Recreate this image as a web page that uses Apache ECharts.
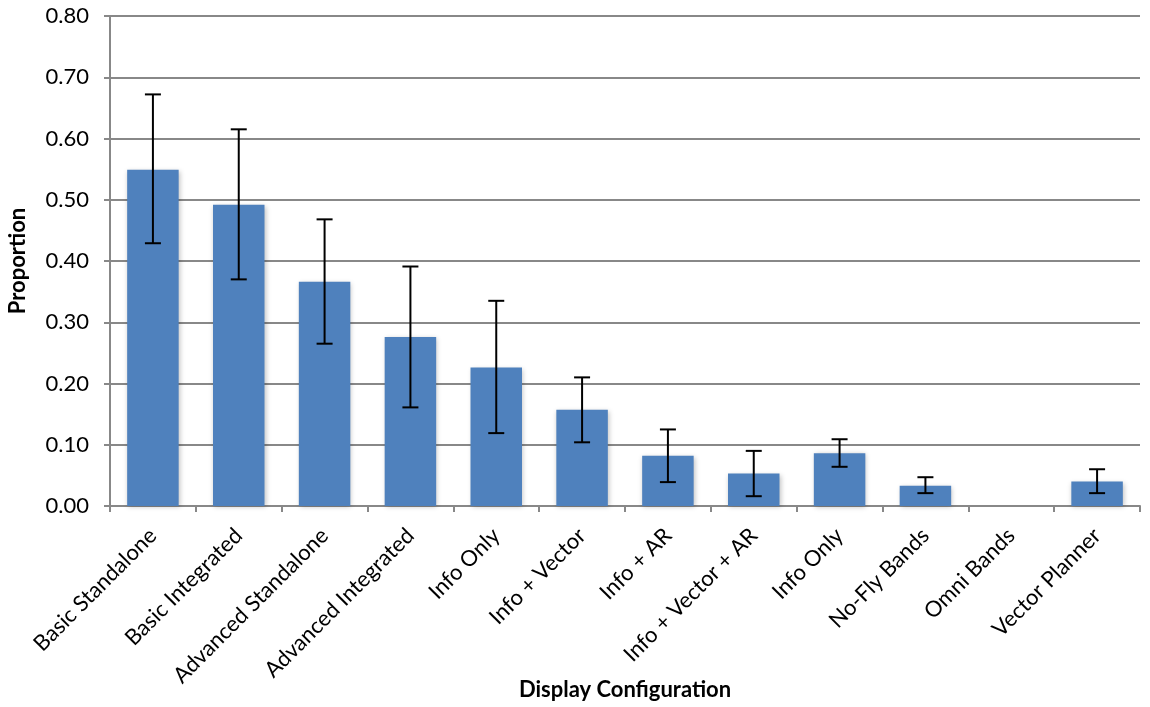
<!DOCTYPE html>
<html>
<head>
<meta charset="utf-8">
<script src="https://cdn.jsdelivr.net/npm/echarts@6/dist/echarts.min.js"></script>
<style>html,body{margin:0;padding:0;background:#fff}#c{width:1150px;height:707px}</style>
</head>
<body>
<div id="c"></div>
<script>
const categories = ["Basic Standalone","Basic Integrated","Advanced Standalone","Advanced Integrated","Info Only","Info + Vector","Info + AR","Info + Vector + AR","Info Only","No-Fly Bands","Omni Bands","Vector Planner"];
const proportions = [0.549,0.492,0.366,0.276,0.226,0.157,0.082,0.053,0.086,0.033,0.000,0.040];
const errLow  = [0.429,0.370,0.265,0.161,0.119,0.104,0.039,0.016,0.064,0.021,0.000,0.021];
const errHigh = [0.672,0.615,0.468,0.391,0.335,0.210,0.125,0.090,0.109,0.047,0.000,0.060];
const yTicks = [0,0.1,0.2,0.3,0.4,0.5,0.6,0.7,0.8];

const FONT = "Lato, 'Open Sans', sans-serif";
const errData = categories.map((c,i)=>[i, errLow[i], errHigh[i]]);

const chart = echarts.init(document.getElementById('c'), null, {renderer:'canvas'});
chart.setOption({
  animation:false,
  grid:{left:110,right:10,top:16,bottom:201,containLabel:false,outerBoundsMode:'none'},
  xAxis:{
    type:'category', data:categories,
    name:'Display Configuration', nameLocation:'middle', nameGap:173, nameMoveOverlap:false,
    nameTextStyle:{fontFamily:FONT,fontSize:22,fontWeight:'bold',color:'#000'},
    axisLine:{lineStyle:{color:'#888',width:2}},
    axisTick:{show:true,length:6,lineStyle:{color:'#888',width:2}},
    axisLabel:{rotate:45,fontFamily:FONT,fontSize:22,color:'#000',margin:26,interval:0}
  },
  yAxis:{
    type:'value', min:yTicks[0], max:yTicks[yTicks.length-1], interval:0.1,
    name:'Proportion', nameLocation:'middle', nameGap:81, nameRotate:90, nameMoveOverlap:false,
    nameTextStyle:{fontFamily:FONT,fontSize:22,fontWeight:'bold',color:'#000'},
    axisLine:{show:true,lineStyle:{color:'#888',width:2}},
    axisTick:{show:true,length:6,lineStyle:{color:'#888',width:2}},
    axisLabel:{fontFamily:FONT,fontSize:22,color:'#000',margin:21,formatter:v=>v.toFixed(2)},
    splitLine:{lineStyle:{color:'#888',width:2}}
  },
  series:[
    {type:'bar',data:proportions,barCategoryGap:'40%',
     itemStyle:{color:'#4F81BD',shadowBlur:5,shadowColor:'rgba(0,0,0,0.25)',shadowOffsetX:1,shadowOffsetY:1}},
    {type:'custom',data:errData,encode:{x:0,y:[1,2]},z:10,
     renderItem:function(params,api){
       const i=api.value(0);
       const lo=api.coord([i,api.value(1)]);
       const hi=api.coord([i,api.value(2)]);
       if(api.value(2)-api.value(1)<=0) return null;
       const hw=8;
       const st={stroke:'#000',lineWidth:2};
       return {type:'group',children:[
         {type:'line',shape:{x1:lo[0],y1:lo[1],x2:hi[0],y2:hi[1]},style:st},
         {type:'line',shape:{x1:lo[0]-hw,y1:lo[1],x2:lo[0]+hw,y2:lo[1]},style:st},
         {type:'line',shape:{x1:hi[0]-hw,y1:hi[1],x2:hi[0]+hw,y2:hi[1]},style:st}
       ]};
     }}
  ]
});
</script>
</body>
</html>
